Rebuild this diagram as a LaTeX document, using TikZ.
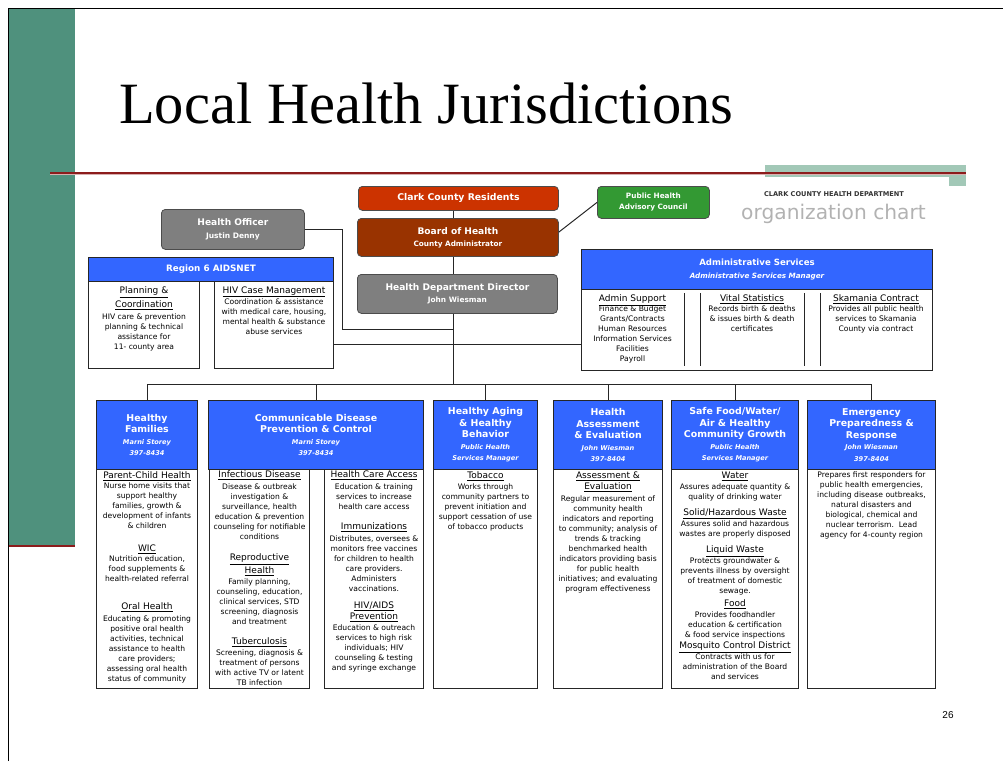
\documentclass[tikz,border=0pt]{standalone}
\usepackage{fontspec}
\setmainfont{Liberation Serif}
\newfontfamily\chartfont{DejaVu Sans}
\newfontfamily\slidesans{Liberation Sans}
\usepackage{tikz}
\usetikzlibrary{positioning}

\definecolor{chartblue}{HTML}{3366FF}
\definecolor{residentred}{HTML}{CC3300}
\definecolor{boardbrown}{HTML}{993300}
\definecolor{officergray}{HTML}{7F7F7F}
\definecolor{councilgreen}{HTML}{339933}
\definecolor{slidegreen}{HTML}{4F917D}
\definecolor{accentgreen}{HTML}{A2C8B7}
\definecolor{ruled}{HTML}{8C1C1C}

\newcommand{\subline}{\fontsize{6.6}{8}\selectfont\itshape}
\newcommand{\colhead}[1]{{\fontsize{9}{10}\selectfont\underline{#1}}}

\tikzstyle{topbox} = [rectangle, rounded corners=4pt, draw=black!70, line width=0.8pt, anchor=north west, inner sep=0pt, text=white, align=center, font=\chartfont\bfseries\fontsize{9.1}{12}\selectfont]
\tikzstyle{unithead} = [rectangle, draw=black!85, line width=1pt, fill=chartblue, anchor=north west, inner sep=0pt, text=white, align=center, font=\chartfont\bfseries\fontsize{9.4}{11.5}\selectfont]
\tikzstyle{unitbody} = [rectangle, draw=black!85, line width=1pt, fill=white, anchor=north west, inner sep=0pt]
\tikzstyle{bodytext} = [anchor=north, inner sep=0pt, align=center, text=black, font=\chartfont\fontsize{7.6}{10}\selectfont]
\tikzstyle{link} = [line width=1pt, black!85]

\begin{document}
\begin{tikzpicture}[x=1pt, y=1pt]
\useasboundingbox (0,0) rectangle (1003,-761);

% Slide frame
\draw [line width=1pt] (8,-761) -- (8,-8) -- (1003,-8);
\fill [slidegreen] (8.5,-8.5) rectangle (75,-545);
\draw [ruled, line width=2.5pt] (8.5,-546) -- (75,-546);
\fill [accentgreen] (765,-165) rectangle (966,-177);
\fill [accentgreen] (949,-165) rectangle (966,-186);
\draw [ruled, line width=2pt] (50,-172.5) -- (966,-172.5);
\draw [ruled!35, line width=1pt] (50,-174.5) -- (966,-174.5);

\node (title) [anchor=base west, inner sep=0pt, font=\fontsize{58.5}{60}\selectfont] at (119,-123) {Local Health Jurisdictions};
\node (pagenum) [inner sep=0pt, font=\slidesans\fontsize{10}{12}\selectfont] at (948,-715) {26};

% Chart heading
\node (dept) [inner sep=0pt, text=black!80, font=\chartfont\bfseries\fontsize{6.6}{8}\selectfont] at (834,-194) {CLARK COUNTY HEALTH DEPARTMENT};
\node (orgchart) [inner sep=0pt, text=black!30, font=\chartfont\fontsize{20.2}{22}\selectfont] at (833.5,-214) {organization chart};

% Nodes
\node (residents) [topbox, fill=residentred, minimum width=200, minimum height=24, font=\chartfont\bfseries\fontsize{9.3}{11}\selectfont] at (358,-186) {Clark County Residents};
\node (board) [topbox, fill=boardbrown, minimum width=201, minimum height=38] at (357,-218) {Board of Health\\{\fontsize{7.3}{8}\selectfont County Administrator}};
\node (officer) [topbox, fill=officergray, minimum width=143, minimum height=40] at (161,-209) {Health Officer\\[1pt]{\fontsize{7.5}{8}\selectfont Justin Denny}};
\node (director) [topbox, fill=officergray, minimum width=200, minimum height=39] at (357,-274) {Health Department Director\\{\fontsize{7.4}{8}\selectfont John Wiesman}};
\node (council) [topbox, fill=councilgreen, minimum width=112, minimum height=32, font=\chartfont\bfseries\fontsize{7.3}{11}\selectfont] at (597,-186) {Public Health\\Advisory Council};

\node (r6head) [unithead, minimum width=245, minimum height=24, font=\chartfont\bfseries\fontsize{8.8}{10}\selectfont] at (88,-257) {Region 6 AIDSNET};
\node (r6left) [unitbody, minimum width=111, minimum height=87] at (88,-281) {};
\node (r6right) [unitbody, minimum width=119, minimum height=87] at (214,-281) {};
\node (planning) [bodytext, below=5.5pt of r6left.north] {\colhead{Planning \&}\\[2pt]\colhead{Coordination}\\[2pt]HIV care \& prevention\\planning \& technical\\assistance for\\11- county area};
\node (hivcase) [bodytext, below=5.5pt of r6right.north] {\colhead{HIV Case Management}\\[1pt]Coordination \& assistance\\with medical care, housing,\\mental health \& substance\\abuse services};

\node (adhead) [unithead, minimum width=351, minimum height=40, font=\chartfont\bfseries\fontsize{8.6}{13}\selectfont] at (581,-249) {Administrative Services\\{\fontsize{7.2}{8}\selectfont\itshape Administrative Services Manager}};
\node (adbody) [unitbody, minimum width=351, minimum height=81] at (581,-289) {};
\foreach \x in {684,700,804,820}
  \draw [link] (\x,-293) -- (\x,-366);
\node (adminsupport) [bodytext] at (632.5,-294.5) {\colhead{Admin Support}\\Finance \& Budget\\Grants/Contracts\\Human Resources\\Information Services\\Facilities\\Payroll};
\node (vitalstats) [bodytext] at (752,-294.5) {\colhead{Vital Statistics}\\Records birth \& deaths\\\& issues birth \& death\\certificates};
\node (skamania) [bodytext] at (876,-294.5) {\colhead{Skamania Contract}\\Provides all public health\\services to Skamania\\County via contract};

\node (hfhead) [unithead, minimum width=101, minimum height=69] at (96,-400) {Healthy\\Families\\{\subline Marni Storey}\\{\subline 397-8434}};
\node (hfbody) [unitbody, minimum width=101, minimum height=219] at (96,-469) {};
\node (cdhead) [unithead, minimum width=215, minimum height=69] at (208,-400) {Communicable Disease\\Prevention \& Control\\{\subline Marni Storey}\\{\subline 397-8434}};
\node (cdleft) [unitbody, minimum width=100, minimum height=219] at (209,-469) {};
\node (cdright) [unitbody, minimum width=99, minimum height=219] at (324,-469) {};
\node (hahead) [unithead, minimum width=104, minimum height=69] at (433,-400) {Healthy Aging\\\& Healthy\\Behavior\\{\subline Public Health}\\{\subline Services Manager}};
\node (habody) [unitbody, minimum width=104, minimum height=219] at (433,-469) {};
\node (hehead) [unithead, minimum width=109, minimum height=69] at (553,-400) {Health\\Assessment\\\& Evaluation\\{\subline John Wiesman}\\{\subline 397-8404}};
\node (hebody) [unitbody, minimum width=109, minimum height=219] at (553,-469) {};
\node (sfhead) [unithead, minimum width=127, minimum height=69] at (671,-400) {Safe Food/Water/\\Air \& Healthy\\Community Growth\\{\subline Public Health}\\{\subline Services Manager}};
\node (sfbody) [unitbody, minimum width=127, minimum height=219] at (671,-469) {};
\node (ephead) [unithead, minimum width=128, minimum height=69] at (807,-400) {Emergency\\Preparedness \&\\Response\\{\subline John Wiesman}\\{\subline 397-8404}};
\node (epbody) [unitbody, minimum width=128, minimum height=219] at (807,-469) {};

% Unit texts
\node (parentchild) [bodytext, below=2.5pt of hfbody.north] {\colhead{Parent-Child Health}\\Nurse home visits that\\support healthy\\families, growth \&\\development of infants\\\& children};
\node (wic) [bodytext, below=75.5pt of hfbody.north] {\colhead{WIC}\\Nutrition education,\\food supplements \&\\health-related referral};
\node (oralhealth) [bodytext, below=133.5pt of hfbody.north] {\colhead{Oral Health}\\[2pt]Educating \& promoting\\positive oral health\\activities, technical\\assistance to health\\care providers;\\assessing oral health\\status of community};

\node (infectious) [bodytext, below=1.5pt of cdleft.north] {\colhead{Infectious Disease}\\[2pt]Disease \& outbreak\\investigation \&\\surveillance, health\\education \& prevention\\counseling for notifiable\\conditions};
\node (reproductive) [bodytext, below=84.5pt of cdleft.north] {\colhead{Reproductive}\\[1pt]\colhead{Health}\\[1pt]Family planning,\\counseling, education,\\clinical services, STD\\screening, diagnosis\\and treatment};
\node (tuberculosis) [bodytext, below=168.5pt of cdleft.north] {\colhead{Tuberculosis}\\[1pt]Screening, diagnosis \&\\treatment of persons\\with active TV or latent\\TB infection};

\node (careaccess) [bodytext, below=1.5pt of cdright.north] {\colhead{Health Care Access}\\[2pt]Education \& training\\services to increase\\health care access};
\node (immunizations) [bodytext, below=53.5pt of cdright.north] {\colhead{Immunizations}\\[2pt]Distributes, oversees \&\\monitors free vaccines\\for children to health\\care providers.\\Administers\\vaccinations.};
\node (hivaids) [bodytext, below=132.5pt of cdright.north] {\colhead{HIV/AIDS}\\[1pt]\colhead{Prevention}\\[1pt]Education \& outreach\\services to high risk\\individuals; HIV\\counseling \& testing\\and syringe exchange};

\node (tobacco) [bodytext, below=2.5pt of habody.north] {\colhead{Tobacco}\\[1pt]Works through\\community partners to\\prevent initiation and\\support cessation of use\\of tobacco products};

\node (assessment) [bodytext, below=2.5pt of hebody.north] {\colhead{Assessment \&}\\[1pt]\colhead{Evaluation}\\[2pt]Regular measurement of\\community health\\indicators and reporting\\to community; analysis of\\trends \& tracking\\benchmarked health\\indicators providing basis\\for public health\\initiatives; and evaluating\\program effectiveness};

\node (water) [bodytext, below=2.5pt of sfbody.north] {\colhead{Water}\\[1pt]Assures adequate quantity \&\\quality of drinking water};
\node (hazwaste) [bodytext, below=39.5pt of sfbody.north] {\colhead{Solid/Hazardous Waste}\\[1pt]Assures solid and hazardous\\wastes are properly disposed};
\node (liquidwaste) [bodytext, below=76.5pt of sfbody.north] {\colhead{Liquid Waste}\\[1pt]Protects groundwater \&\\prevents illness by oversight\\of treatment of domestic\\sewage.};
\node (food) [bodytext, below=130.5pt of sfbody.north] {\colhead{Food}\\[1pt]Provides foodhandler\\education \& certification\\\& food service inspections};
\node (mosquito) [bodytext, below=172.5pt of sfbody.north] {\colhead{Mosquito Control District}\\[1pt]Contracts with us for\\administration of the Board\\and services};

\node (preparedness) [bodytext, below=3pt of epbody.north] {Prepares first responders for\\public health emergencies,\\including disease outbreaks,\\natural disasters and\\biological, chemical and\\nuclear terrorism.\ \ Lead\\agency for 4-county region};

% Lines
\coordinate (trunk) at (453,0);
\coordinate (bus) at (0,-384);
\coordinate (sideline) at (0,-344);
\coordinate (hobend) at (342,-329);

\draw [link] (residents.south -| trunk) -- (board.north -| trunk);
\draw [link] (board.south -| trunk) -- (director.north -| trunk);
\draw [link] (director.south -| trunk) -- (trunk |- bus);
\draw [link] (board.3) -- (council.west);
\draw [link] (officer.east) -| (hobend) -- (hobend -| trunk);
\draw [link] (r6right.east |- sideline) -- (adbody.west |- sideline);
\draw [link] (hfhead.north |- bus) -- (ephead.north |- bus);
\foreach \u in {hfhead, cdhead, hahead, hehead, sfhead, ephead}
  \draw [link] (\u.north |- bus) -- (\u.north);

\end{tikzpicture}
\end{document}
